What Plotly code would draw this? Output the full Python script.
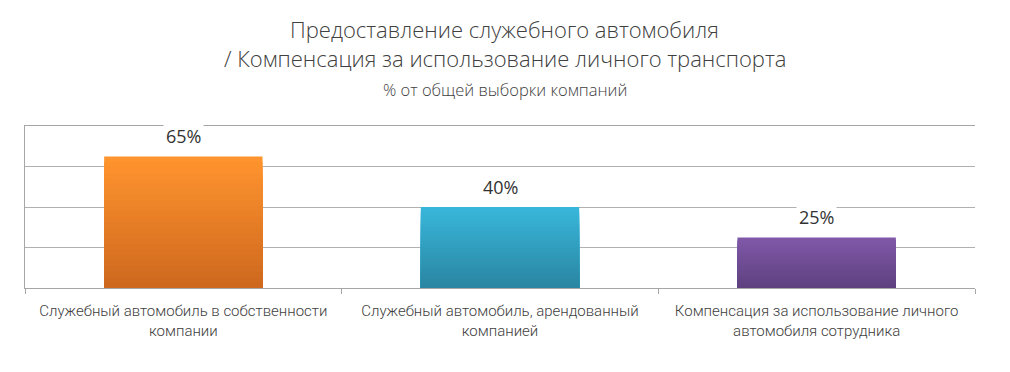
import plotly.graph_objects as go

categories = [
    "Служебный автомобиль в собственности<br>компании",
    "Служебный автомобиль, арендованный<br>компанией",
    "Компенсация за использование личного<br>автомобиля сотрудника",
]
values = [65, 40, 25]
labels = ["65%", "40%", "25%"]
top_colors = [(255, 148, 46), (56, 182, 218), (128, 88, 168)]
bottom_colors = [(206, 104, 30), (42, 134, 162), (95, 65, 128)]

N = 24
fig = go.Figure()
for i in range(N):
    frac = 1 - i / N
    t = i / (N - 1)
    cols = []
    for a, b in zip(top_colors, bottom_colors):
        c = tuple(round(a[k] + (b[k] - a[k]) * t) for k in range(3))
        cols.append("rgb(%d,%d,%d)" % c)
    fig.add_trace(go.Bar(
        x=categories, y=[v * frac for v in values],
        marker=dict(color=cols, line=dict(width=0)),
        width=0.5, showlegend=False, hoverinfo="skip",
    ))

for c, v, l in zip(categories, values, labels):
    fig.add_annotation(x=c, y=v, text=l, showarrow=False, yanchor="bottom",
                       yshift=5, bgcolor="white", borderpad=2,
                       font=dict(family="Open Sans, Lato, sans-serif", size=18, color="#333333"))

font_title = "Open Sans, Lato, sans-serif"
fig.add_annotation(xref="paper", yref="paper", x=0.505, y=1.0, yshift=114, text="Предоставление служебного автомобиля",
                   showarrow=False, font=dict(family=font_title, size=22, weight=300, color="#404040"))
fig.add_annotation(xref="paper", yref="paper", x=0.505, y=1.0, yshift=85, text="/ Компенсация за использование личного транспорта",
                   showarrow=False, font=dict(family=font_title, size=22, weight=300, color="#404040"))
fig.add_annotation(xref="paper", yref="paper", x=0.505, y=1.0, yshift=50, text="% от общей выборки компаний",
                   showarrow=False, font=dict(family=font_title, size=16.5, weight=300, color="#404040"))

fig.update_layout(
    barmode="overlay",
    width=1010, height=372,
    margin=dict(l=17, r=43, t=118, b=92, autoexpand=False),
    paper_bgcolor="white", plot_bgcolor="white",
    xaxis=dict(showline=True, mirror=True, linecolor="#A6A6A6", ticks="outside", tickson="boundaries",
               ticklen=5, tickcolor="#A6A6A6", showgrid=False, automargin=False, ticklabelstandoff=9,
               tickfont=dict(family="Roboto, sans-serif", size=15, weight=300, color="#404040")),
    yaxis=dict(range=[0, 80], dtick=20, showticklabels=False, showgrid=True, gridcolor="#B0B0B0",
               showline=True, linecolor="#A6A6A6", zeroline=False, ticks="", automargin=False),
)

fig.write_html("out.html")
